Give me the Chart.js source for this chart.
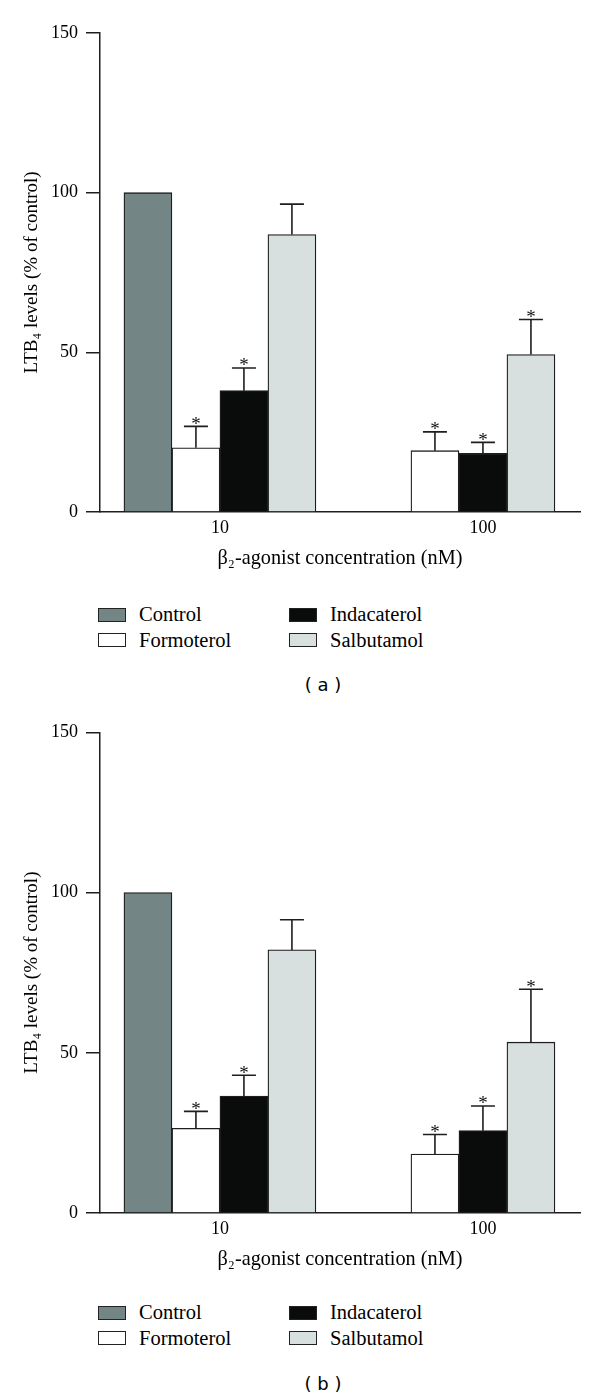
<!DOCTYPE html>
<html>
<head>
<meta charset="utf-8">
<script src="https://cdn.jsdelivr.net/npm/chart.js@4.4.1/dist/chart.umd.min.js"></script>
<style>
  body { margin: 0; background: #fff; }
  #page { position: relative; width: 600px; height: 1399px; overflow: hidden; }
  canvas { position: absolute; left: 0; }
  .legend { position: absolute; left: 98px; font-family: 'Liberation Serif', serif; font-size: 20.5px; color: #000; }
  .item { position: absolute; white-space: nowrap; display: flex; align-items: center; }
  .box { width: 26px; height: 12px; border: 1.5px solid #222; margin-right: 13px; }
  .panel { position: absolute; width: 600px; left: 23px; text-align: center; font-family: 'DejaVu Sans', sans-serif; font-size: 18px; color: #000; }
</style>
</head>
<body>
<div id="page">
  <canvas id="chartA" width="600" height="572" style="top:0"></canvas>
  <div class="legend" id="legendA" style="top:603px"></div>
  <div class="panel" style="top:674px">( a )</div>

  <canvas id="chartB" width="600" height="573" style="top:700px"></canvas>
  <div class="legend" id="legendB" style="top:1301px"></div>
  <div class="panel" style="top:1373px">( b )</div>
</div>
<script>
// datos
const categories = ['10', '100'];
const seriesNames = ['Control', 'Formoterol', 'Indacaterol', 'Salbutamol'];
const seriesColors = ['#748585', '#ffffff', '#0a0c0b', '#d7e0de'];

// panel (a)
const controlA = [100, null];
const formoterolA = [20.1, 19.2];
const indacaterolA = [38.0, 18.4];
const salbutamolA = [86.9, 49.3];
const controlErrA = [0, null];
const formoterolErrA = [6.7, 5.9];
const indacaterolErrA = [7.1, 3.4];
const salbutamolErrA = [9.5, 11.0];

// panel (b)
const controlB = [100, null];
const formoterolB = [26.4, 18.4];
const indacaterolB = [36.5, 25.7];
const salbutamolB = [82.1, 53.3];
const controlErrB = [0, null];
const formoterolErrB = [5.3, 6.1];
const indacaterolErrB = [6.5, 7.7];
const salbutamolErrB = [9.4, 16.5];

// asteriscos (p < 0.05)
const signifControl = [false, false];
const signifFormoterol = [true, true];
const signifIndacaterol = [true, true];
const signifSalbutamol = [false, true];

const yTicks = [0, 50, 100, 150];
const ink = '#1e1e1e';

Chart.defaults.font.family = "'Liberation Serif', serif";
Chart.defaults.color = '#000';

// barras de error + asteriscos
const errorBars = {
  id: 'errorBars',
  afterDatasetsDraw(chart) {
    const ctx = chart.ctx;
    const yScale = chart.scales.y;
    ctx.save();
    ctx.strokeStyle = ink;
    ctx.lineWidth = 1.6;
    ctx.fillStyle = '#111';
    ctx.font = "19px 'Liberation Serif', serif";
    ctx.textAlign = 'center';
    ctx.textBaseline = 'alphabetic';
    chart.data.datasets.forEach((ds, i) => {
      const meta = chart.getDatasetMeta(i);
      ds.data.forEach((pt, j) => {
        if (pt.y === null) return;
        const bar = meta.data[j];
        const err = ds.errors[j];
        let capY = bar.y;
        if (err) {
          capY = yScale.getPixelForValue(pt.y + err);
          ctx.beginPath();
          ctx.moveTo(bar.x, bar.y);
          ctx.lineTo(bar.x, capY);
          ctx.moveTo(bar.x - 12, capY);
          ctx.lineTo(bar.x + 12, capY);
          ctx.stroke();
        }
        if (ds.signif[j]) {
          const m = ctx.measureText('*');
          ctx.fillText('*', bar.x, capY - 2.5 - m.actualBoundingBoxDescent);
        }
      });
    });
    ctx.restore();
  }
};

function makeChart(id, values, errors, topPad) {
  const signif = [signifControl, signifFormoterol, signifIndacaterol, signifSalbutamol];
  const datasets = seriesNames.map((name, i) => ({
    label: name,
    data: categories.map((c, j) => ({ x: j, y: values[i][j] })),
    errors: errors[i],
    signif: signif[i],
    backgroundColor: seriesColors[i],
    borderColor: ink,
    borderWidth: 1.3,
    barThickness: 48,
    skipNull: true
  }));

  return new Chart(document.getElementById(id), {
    type: 'bar',
    data: { datasets },
    plugins: [errorBars],
    options: {
      responsive: false,
      animation: false,
      layout: { padding: { top: topPad, right: 20, left: 0, bottom: 0 } },
      plugins: { legend: { display: false }, tooltip: { enabled: false } },
      scales: {
        x: {
          type: 'linear',
          offset: false,
          min: -0.456,
          max: 1.369,
          afterBuildTicks: (scale) => { scale.ticks = categories.map((c, j) => ({ value: j })); },
          afterFit: (scale) => { scale.height = 60; },
          ticks: {
            callback: (v) => categories[v],
            font: { size: 18 },
            padding: 5,
            maxRotation: 0
          },
          grid: { drawOnChartArea: false, drawTicks: false },
          border: { color: ink, width: 1.5 },
          title: {
            display: true,
            text: 'β₂-agonist concentration (nM)',
            font: { size: 20.3 },
            padding: { top: 0, bottom: 1 }
          }
        },
        y: {
          min: 0,
          max: 150,
          afterBuildTicks: (scale) => { scale.ticks = yTicks.map(v => ({ value: v })); },
          afterFit: (scale) => { scale.width = 100; },
          ticks: { font: { size: 18 }, padding: 8 },
          grid: { drawOnChartArea: false, tickLength: 14, color: ink, lineWidth: 1.5 },
          border: { color: ink, width: 1.5 },
          title: {
            display: true,
            text: 'LTB₄ levels (% of control)',
            font: { size: 19 },
            padding: { top: 20.5, bottom: 0 }
          }
        }
      }
    }
  });
}

function makeLegend(id) {
  const order = [[0, 0, 0], [2, 191, 0], [1, 0, 25.5], [3, 191, 25.5]];
  const el = document.getElementById(id);
  order.forEach(([i, left, top]) => {
    const item = document.createElement('div');
    item.className = 'item';
    item.style.left = left + 'px';
    item.style.top = top + 'px';
    item.innerHTML = `<span class="box" style="background:${seriesColors[i]}"></span><span>${seriesNames[i]}</span>`;
    el.appendChild(item);
  });
}

makeChart('chartA',
  [controlA, formoterolA, indacaterolA, salbutamolA],
  [controlErrA, formoterolErrA, indacaterolErrA, salbutamolErrA], 33);
makeChart('chartB',
  [controlB, formoterolB, indacaterolB, salbutamolB],
  [controlErrB, formoterolErrB, indacaterolErrB, salbutamolErrB], 32.3);
makeLegend('legendA');
makeLegend('legendB');
</script>
</body>
</html>
